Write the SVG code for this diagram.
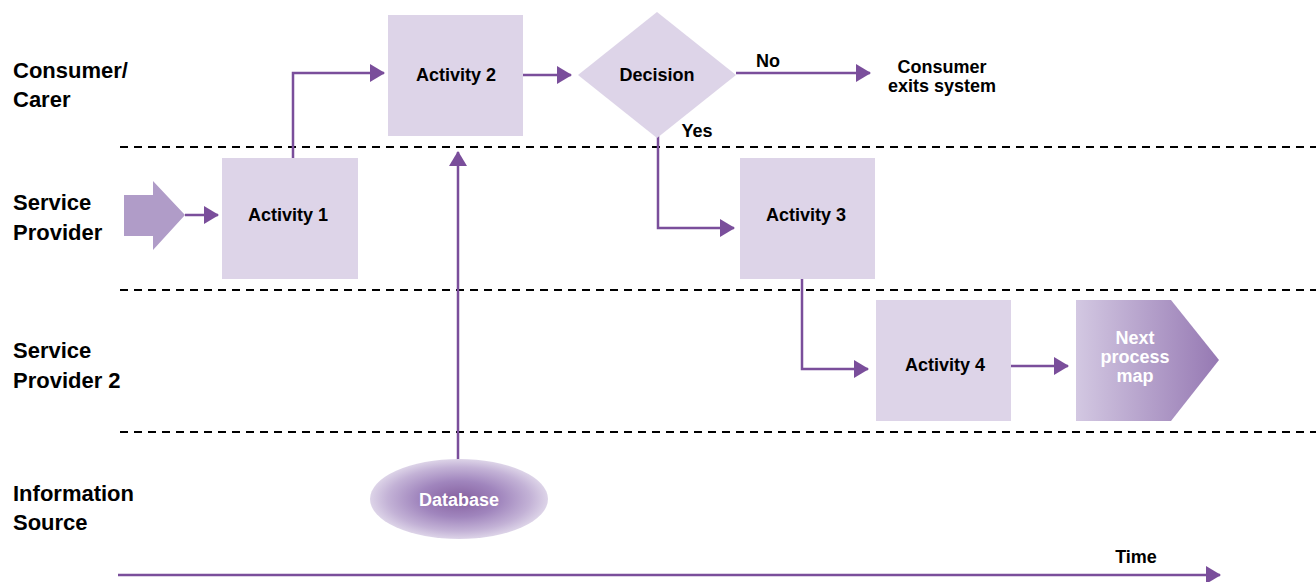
<svg xmlns="http://www.w3.org/2000/svg" width="1316" height="582" viewBox="0 0 1316 582">
  <style>
    .lane { font-family: "Liberation Sans", Arial, sans-serif; font-weight: bold; font-size: 22px; fill: #000; }
    .lbl { font-family: "Liberation Sans", Arial, sans-serif; font-weight: bold; font-size: 18px; fill: #000; text-anchor: middle; }
    .wlbl { font-family: "Liberation Sans", Arial, sans-serif; font-weight: bold; font-size: 18px; fill: #fff; text-anchor: middle; }
    .box { fill: #ddd4e8; }
    .sep { stroke: #000; stroke-width: 2; stroke-dasharray: 8 6; fill: none; }
    .conn { stroke: #7a4e9b; stroke-width: 2.5; fill: none; marker-end: url(#arrow); }
  </style>
  <defs>
    <marker id="arrow" markerUnits="userSpaceOnUse" markerWidth="16" markerHeight="18" refX="14" refY="9" orient="auto">
      <path d="M0,0 L15,9 L0,18 Z" fill="#7a4e9b"/>
    </marker>
    <linearGradient id="nextGrad" x1="0" y1="0" x2="1" y2="0">
      <stop offset="0" stop-color="#d3c8e2"/>
      <stop offset="1" stop-color="#9679b3"/>
    </linearGradient>
    <radialGradient id="dbGrad" cx="0.5" cy="0.5" r="0.5">
      <stop offset="0" stop-color="#85609f"/>
      <stop offset="0.45" stop-color="#a085bd"/>
      <stop offset="0.8" stop-color="#c3b2d6"/>
      <stop offset="1" stop-color="#ddd4e8"/>
    </radialGradient>
  </defs>

  <!-- swimlane separators -->
  <g id="separators">
    <line class="sep" x1="120" y1="147" x2="1316" y2="147"/>
    <line class="sep" x1="120" y1="290" x2="1316" y2="290"/>
    <line class="sep" x1="120" y1="432" x2="1316" y2="432"/>
  </g>

  <!-- lane titles -->
  <g id="lane-labels">
    <text class="lane" x="13" y="78">Consumer/</text>
    <text class="lane" x="13" y="107">Carer</text>
    <text class="lane" x="13" y="210">Service</text>
    <text class="lane" x="13" y="240">Provider</text>
    <text class="lane" x="13" y="358">Service</text>
    <text class="lane" x="13" y="388">Provider 2</text>
    <text class="lane" x="13" y="501">Information</text>
    <text class="lane" x="13" y="530">Source</text>
  </g>

  <!-- connectors -->
  <g id="connectors">
    <path class="conn" d="M185,215 L218,215"/>
    <path class="conn" d="M293,158 L293,73 L384,73"/>
    <path class="conn" d="M523,75 L571,75"/>
    <path class="conn" d="M736,73 L870,73"/>
    <path class="conn" d="M658,136 L658,228 L734,228"/>
    <path class="conn" d="M802,279 L802,369 L868,369"/>
    <path class="conn" d="M1011,366 L1068,366"/>
    <path class="conn" d="M458,462 L458,152"/>
    <path class="conn" d="M118,575 L1220,575"/>
    <text class="lbl" x="768" y="67">No</text>
    <text class="lbl" x="697" y="137">Yes</text>
    <text class="lbl" x="1136" y="563">Time</text>
  </g>

  <g id="start">
    <path d="M124,195 L153,195 L153,181 L185,215 L153,250 L153,236 L124,236 Z" fill="#b09cc8"/>
  </g>

  <g id="activity1">
    <rect class="box" x="222" y="158" width="136" height="121"/>
    <text class="lbl" x="288" y="221">Activity 1</text>
  </g>

  <g id="activity2">
    <rect class="box" x="388" y="15" width="135" height="121"/>
    <text class="lbl" x="456" y="81">Activity 2</text>
  </g>

  <g id="decision">
    <path class="box" d="M657,12 L736,75 L657,138 L578,75 Z"/>
    <text class="lbl" x="657" y="81">Decision</text>
  </g>

  <g id="exit">
    <text class="lbl" x="942" y="73">Consumer</text>
    <text class="lbl" x="942" y="92">exits system</text>
  </g>

  <g id="activity3">
    <rect class="box" x="740" y="158" width="135" height="121"/>
    <text class="lbl" x="806" y="221">Activity 3</text>
  </g>

  <g id="activity4">
    <rect class="box" x="876" y="300" width="135" height="121"/>
    <text class="lbl" x="945" y="371">Activity 4</text>
  </g>

  <g id="next-map">
    <path d="M1076,300 L1171,300 L1219,360 L1171,421 L1076,421 Z" fill="url(#nextGrad)"/>
    <text class="wlbl" x="1135" y="344">Next</text>
    <text class="wlbl" x="1135" y="363">process</text>
    <text class="wlbl" x="1135" y="382">map</text>
  </g>

  <g id="database">
    <ellipse cx="459" cy="499" rx="89" ry="40" fill="url(#dbGrad)"/>
    <text class="wlbl" x="459" y="506">Database</text>
  </g>
</svg>
